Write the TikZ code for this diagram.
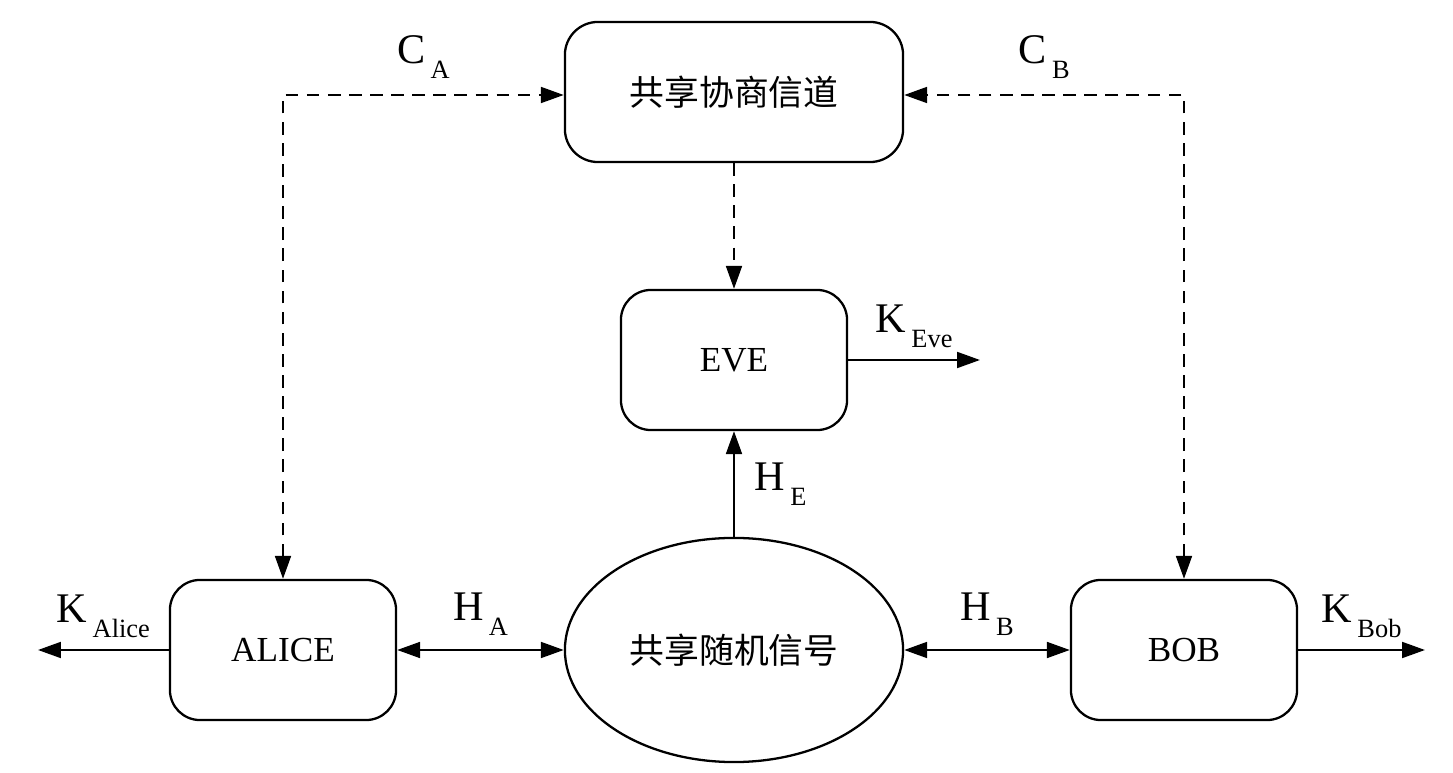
\documentclass[tikz,border=0pt]{standalone}
\usepackage{fontspec}
\setmainfont{Liberation Serif}
\newfontfamily\cjk{Noto Sans CJK SC}
\usetikzlibrary{arrows.meta, shapes.geometric}

\newcommand{\sublbl}[2]{#1\kern1.5pt\raisebox{-0.75ex}{\fontsize{7.5}{8}\selectfont #2}}

\tikzset{
	box/.style={draw, rounded corners=0.3cm, minimum width=2.26cm, minimum height=1.4cm, font=\fontsize{10}{12}\selectfont},
	bigbox/.style={box, minimum width=3.38cm, rounded corners=0.33cm, font=\cjk\fontsize{9.9}{12}\selectfont},
	>={Triangle[length=6.5pt, width=4.5pt]},
	lbl/.style={font=\fontsize{12}{14}\selectfont, inner sep=1pt},
	pub/.style={dashed, dash pattern=on 3.6pt off 2.4pt}
}

\begin{document}
\begin{tikzpicture}[x=0.01cm, y=-0.01cm, line width=0.65pt]
	\useasboundingbox (0,0) rectangle (1453,773);

	\node[bigbox] (channel) at (734,92)  {共享协商信道};
	\node[box]    (eve)     at (734,360) {EVE};
	\node[box]    (alice)   at (283,650) {ALICE};
	\node[box]    (bob)     at (1184,650) {BOB};
	\node[draw, ellipse, minimum width=3.38cm, minimum height=2.24cm, inner sep=0pt,
		font=\cjk\fontsize{9.9}{12}\selectfont] (source) at (734,650) {共享随机信号};

	\coordinate (kalice) at (38,650);
	\coordinate (keve)   at (980,360);
	\coordinate (kbob)   at (1425,650);

	% public channel
	\draw[pub, <->] (alice.north) |- node[lbl, pos=0.75, above=0.12cm] {\sublbl{C}{A}} ([yshift=-0.03cm]channel.west);
	\draw[pub, <->] (bob.north) |- node[lbl, pos=0.75, above=0.12cm] {\sublbl{C}{B}} ([yshift=-0.03cm]channel.east);
	\draw[pub, ->] (channel) -- (eve);

	% random source
	\draw[<->] (alice) -- node[lbl, above=0.1cm] {\sublbl{H}{A}} (source);
	\draw[<->] (source) -- node[lbl, above=0.1cm] {\sublbl{H}{B}} (bob);
	\draw[->] (source) -- node[lbl, right=0.16cm] {\sublbl{H}{E}} (eve);

	% keys
	\draw[->] (alice) -- node[lbl, above=0.08cm] {\sublbl{K}{Alice}} (kalice);
	\draw[->] (eve) -- node[lbl, above=0.08cm] {\sublbl{K}{Eve}} (keve);
	\draw[->] (bob) -- node[lbl, above=0.08cm] {\sublbl{K}{Bob}} (kbob);
\end{tikzpicture}
\end{document}
